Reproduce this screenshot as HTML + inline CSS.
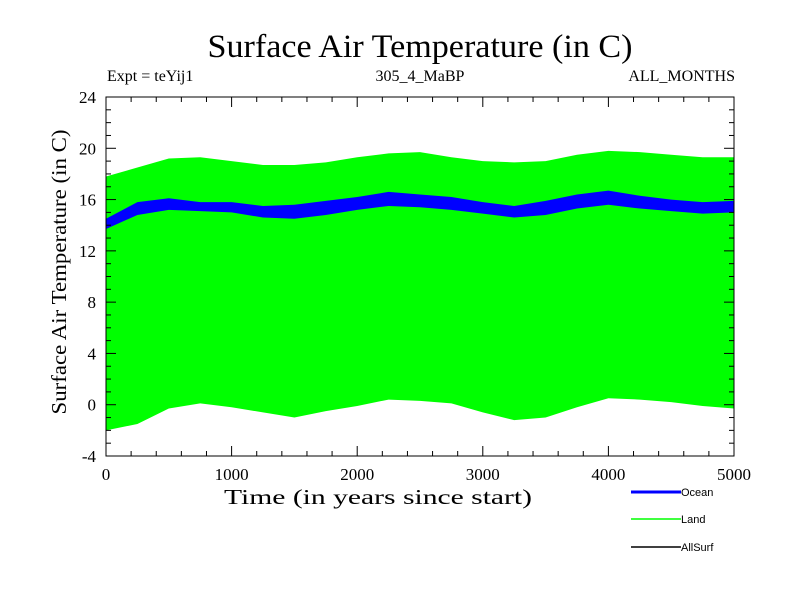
<!DOCTYPE html>
<html><head><meta charset="utf-8"><style>
body{margin:0;background:#fff}
svg{display:block;font-family:"Liberation Serif",serif}
.s{font-family:"Liberation Sans",sans-serif}
</style></head><body>
<svg id="c" width="800" height="600">
<text x="420" y="57" font-size="33" text-anchor="middle" textLength="425" lengthAdjust="spacingAndGlyphs">Surface Air Temperature (in C)</text>
<text x="107" y="81" font-size="16">Expt = teYij1</text>
<text x="420" y="81" font-size="16" text-anchor="middle">305_4_MaBP</text>
<text x="735" y="81" font-size="16" text-anchor="end">ALL_MONTHS</text>
<g id="plot"></g>
<g id="axes"></g>
<text x="378" y="504" font-size="21" text-anchor="middle" textLength="308" lengthAdjust="spacingAndGlyphs">Time (in years since start)</text>
<text transform="translate(66,272) rotate(-90)" font-size="21" text-anchor="middle" textLength="285" lengthAdjust="spacingAndGlyphs">Surface Air Temperature (in C)</text>
<g>
<g><line x1="631" y1="492" x2="681" y2="492" stroke="#0000ff" stroke-width="3"/><text class="s" x="681" y="496" font-size="11">Ocean</text></g>
<g><line x1="631" y1="519" x2="681" y2="519" stroke="#00ff00" stroke-width="1.5"/><text class="s" x="681" y="523" font-size="11">Land</text></g>
<g><line x1="631" y1="547" x2="681" y2="547" stroke="#000" stroke-width="1.5"/><text class="s" x="681" y="551" font-size="11">AllSurf</text></g>
</g>
</svg>
<script>
const years=[0,250,500,750,1000,1250,1500,1750,2000,2250,2500,2750,3000,3250,3500,3750,4000,4250,4500,4750,5000];
const landHigh=[17.8,18.5,19.2,19.3,19.0,18.7,18.7,18.9,19.3,19.6,19.7,19.3,19.0,18.9,19.0,19.5,19.8,19.7,19.5,19.3,19.3];
const landLow=[-2.0,-1.5,-0.3,0.1,-0.2,-0.6,-1.0,-0.5,-0.1,0.4,0.3,0.1,-0.6,-1.2,-1.0,-0.2,0.5,0.4,0.2,-0.1,-0.3];
const oceanHigh=[14.5,15.8,16.1,15.8,15.8,15.5,15.6,15.9,16.2,16.6,16.4,16.2,15.8,15.5,15.9,16.4,16.7,16.3,16.0,15.8,15.9];
const oceanLow=[13.7,14.8,15.2,15.1,15.0,14.6,14.5,14.8,15.2,15.5,15.4,15.2,14.9,14.6,14.8,15.3,15.6,15.3,15.1,14.9,15.0];
const xTicks=[0,1000,2000,3000,4000,5000];
const yTicks=[-4,0,4,8,12,16,20,24];
const L=106,R=734,T=97,B=456;
const X=v=>L+(v-0)/5000*(R-L);
const Y=v=>B-(v+4)/28*(B-T);
const NS='http://www.w3.org/2000/svg';
function mk(t,a,p){const e=document.createElementNS(NS,t);for(const k in a)e.setAttribute(k,a[k]);p.appendChild(e);return e;}
const plot=document.getElementById('plot'),axes=document.getElementById('axes');
function band(hi,lo,col,name){
  let pts=years.map((y,i)=>X(y)+','+Y(hi[i]));
  for(let i=years.length-1;i>=0;i--)pts.push(X(years[i])+','+Y(lo[i]));
  const p=mk('polygon',{points:pts.join(' '),fill:col},plot);
  
  
}
band(landHigh,landLow,'#00ff00','land-band');
band(oceanHigh,oceanLow,'#0000ff','ocean-band');
const fr=mk('rect',{x:L,y:T,width:R-L,height:B-T,fill:'none',stroke:'#000','stroke-width':1},axes);


for(let v=0;v<=5000;v+=200){const big=v%1000===0,len=big?10:5;
  mk('line',{x1:X(v),y1:B,x2:X(v),y2:B-len,stroke:'#000'},axes);
  mk('line',{x1:X(v),y1:T,x2:X(v),y2:T+len,stroke:'#000'},axes);}
for(let v=-4;v<=24;v++){const big=v%4===0,len=big?10:5;
  mk('line',{x1:L,y1:Y(v),x2:L+len,y2:Y(v),stroke:'#000'},axes);
  mk('line',{x1:R,y1:Y(v),x2:R-len,y2:Y(v),stroke:'#000'},axes);}
xTicks.forEach(v=>{const t=mk('text',{x:X(v),y:B+24,'font-size':17,'text-anchor':'middle'},axes);t.textContent=v;
  
  });
yTicks.forEach(v=>{const t=mk('text',{x:L-10,y:Y(v)+6,'font-size':17,'text-anchor':'end'},axes);t.textContent=v;
  
  });
</script>
</body></html>
